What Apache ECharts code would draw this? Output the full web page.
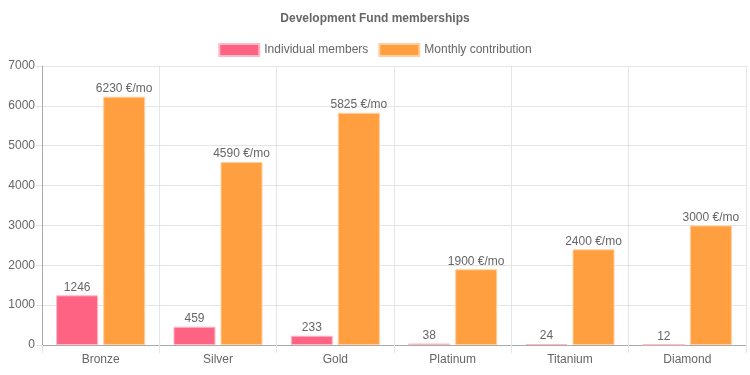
<!DOCTYPE html>
<html>
<head>
<meta charset="utf-8">
<script src="https://cdn.jsdelivr.net/npm/echarts@6/dist/echarts.min.js"></script>
<style>
  html, body { margin: 0; padding: 0; background: #fff; }
  #main { width: 750px; height: 375px; }
</style>
</head>
<body>
<div id="main"></div>
<script>
// data
var tiers = ['Bronze', 'Silver', 'Gold', 'Platinum', 'Titanium', 'Diamond'];
var members = [1246, 459, 233, 38, 24, 12];
var contribution = [6230, 4590, 5825, 1900, 2400, 3000];
var seriesNames = ['Individual members', 'Monthly contribution'];

var font = 'Liberation Sans, Arial, sans-serif';

var chart = echarts.init(document.getElementById('main'));
chart.setOption({
  animation: false,
  textStyle: { fontFamily: font },
  title: {
    text: 'Development Fund memberships',
    left: 'center',
    top: 8,
    textStyle: { fontSize: 12, fontWeight: 'bold', color: '#666', fontFamily: font }
  },
  legend: {
    data: seriesNames,
    top: 38,
    icon: 'rect',
    itemWidth: 40,
    itemHeight: 12,
    itemGap: 10,
    textStyle: { fontSize: 12, color: '#666', fontFamily: font }
  },
  grid: { left: 42, right: 4, top: 66, bottom: 30 },
  xAxis: {
    type: 'category',
    data: tiers,
    axisLine: { lineStyle: { color: '#aaa' } },
    axisTick: { show: true, length: 8, lineStyle: { color: '#e5e5e5' } },
    splitLine: { show: true, lineStyle: { color: '#e5e5e5' } },
    axisLabel: { color: '#666', fontSize: 12, margin: 9 }
  },
  yAxis: {
    type: 'value',
    min: 0,
    max: 7000,
    interval: 1000,
    axisLine: { show: true, lineStyle: { color: '#aaa' } },
    axisTick: { show: true, length: 6, lineStyle: { color: '#e5e5e5' } },
    splitLine: { lineStyle: { color: '#e5e5e5' } },
    axisLabel: { color: '#666', fontSize: 12, margin: 7, formatter: function (v) { return String(v); } }
  },
  series: [
    {
      name: seriesNames[0],
      type: 'bar',
      data: members,
      barWidth: 42,
      barGap: '12%',
      itemStyle: { color: '#ff6384', borderColor: '#ffb8c6', borderWidth: 1 },
      label: { show: true, position: 'top', distance: 2, color: '#666', fontSize: 12 }
    },
    {
      name: seriesNames[1],
      type: 'bar',
      data: contribution,
      barWidth: 42,
      itemStyle: { color: '#ff9f40', borderColor: '#ffcf9f', borderWidth: 1 },
      label: { show: true, position: 'top', distance: 2, color: '#666', fontSize: 12, formatter: '{c} €/mo' }
    }
  ]
});
</script>
</body>
</html>
